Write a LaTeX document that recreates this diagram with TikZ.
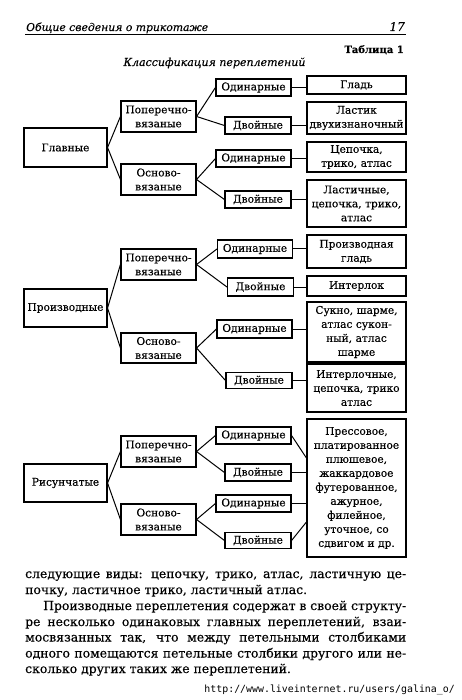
\documentclass[tikz,border=0pt]{standalone}
\usepackage{fontspec}
\setmainfont{DejaVu Serif}[FakeBold=0.35]
\newfontfamily\urlfont{DejaVu Sans Mono}
\begin{document}
\begin{tikzpicture}[x=1pt,y=-1pt,
  box/.style={draw, line width=1.1pt, inner xsep=0pt, inner ysep=0pt, align=center, font=\fontsize{10.6}{14}\selectfont},
  lzero/.style={box, text width=83pt, minimum height=38pt},
  lone/.style={box, text width=75pt, minimum height=31pt},
  odb/.style={box, text width=75pt, minimum height=17pt},
  dvb/.style={box, text width=66pt, minimum height=17pt},
  res/.style={box, text width=99pt},
  conn/.style={line width=1pt},
  bodyline/.style={anchor=base west, inner sep=0pt, font=\fontsize{12.4}{15}\selectfont},
]
\useasboundingbox (0,0) rectangle (462,700);

% header
\node[anchor=base west, inner sep=0pt, font=\fontsize{10.8}{13}\selectfont\itshape] (hd) at (26,31) {Общие сведения о трикотаже};
\node[anchor=base east, inner sep=0pt, font=\fontsize{12}{14}\selectfont\itshape] (pg) at (405,31) {17};
\coordinate (rl) at (25,34.5);
\coordinate (rr) at (406,34.5);
\draw[line width=1.2pt] (rl) -- (rr);
\node[anchor=base east, inner sep=0pt, font=\fontsize{10}{12}\selectfont\bfseries] (tb) at (404,53) {Таблица 1};
\node[anchor=base, inner sep=0pt, font=\fontsize{11}{13}\selectfont\itshape] (cap) at (214.5,66) {Классификация переплетений};

% group 1
\node[lzero, minimum height=39pt] (g) at (65.5,147.5) {Главные};
\node[lone] (p1) at (158.5,116.5) {Поперечно-\\вязаные};
\node[lone] (o1) at (158.5,179.5) {Осново-\\вязаные};
\node[odb] (a1) at (253.5,87.5) {Одинарные};
\node[dvb] (b1) at (258,125.5) {Двойные};
\node[odb] (a2) at (253.5,158.5) {Одинарные};
\node[dvb] (b2) at (258,199.5) {Двойные};
\node[res, minimum height=18pt] (r1) at (356.5,85) {Гладь};
\node[res, minimum height=32pt] (r2) at (356.5,118) {Ластик\\двухизнаночный};
\node[res, minimum height=30pt] (r3) at (356.5,157) {Цепочка,\\трико, атлас};
\node[res, minimum height=47pt] (r4) at (356.5,203.5) {Ластичные,\\цепочка, трико,\\атлас};

% group 2
\node[lzero] (pr) at (65.5,308) {Производные};
\node[lone] (p2) at (158.5,264.5) {Поперечно-\\вязаные};
\node[lone, minimum height=30pt] (o2) at (158.5,348) {Осново-\\вязаные};
\node[odb, minimum height=18pt] (a3) at (255,249) {Одинарные};
\node[dvb, minimum height=18pt] (b3) at (260.5,287) {Двойные};
\node[odb, minimum height=18pt] (a4) at (254.5,329) {Одинарные};
\node[dvb, minimum height=16pt] (b4) at (259,380.5) {Двойные};
\node[res, minimum height=33pt] (r5) at (356.5,251.5) {Производная\\гладь};
\node[res, minimum height=20pt] (r6) at (356.5,286) {Интерлок};
\node[res, minimum height=60pt] (r7) at (356.5,332) {Сукно, шарме,\\атлас сукон-\\ный, атлас\\шарме};
\node[res, minimum height=48pt] (r8) at (356.5,388) {Интерлочные,\\цепочка, трико\\атлас};

% group 3
\node[lzero] (ri) at (65.5,483) {Рисунчатые};
\node[lone] (p3) at (158.5,451.5) {Поперечно-\\вязаные};
\node[lone] (o3) at (158.5,519.5) {Осново-\\вязаные};
\node[odb] (a5) at (253.5,435.5) {Одинарные};
\node[dvb] (b5) at (258,472.5) {Двойные};
\node[odb] (a6) at (253.5,503.5) {Одинарные};
\node[dvb, minimum height=16pt] (b6) at (258,540.5) {Двойные};
\node[res, minimum height=138pt] (big) at (356.5,488) {Прессовое,\\платированное\\плюшевое,\\жаккардовое\\футерованное,\\ажурное,\\филейное,\\уточное, со\\сдвигом и др.};

% connectors
\draw[conn] (g.east) -- (p1.west);
\draw[conn] (g.east) -- (o1.west);
\draw[conn] (p1.east) -- (a1.west);
\draw[conn] (p1.east) -- (b1.west);
\draw[conn] (o1.east) -- (a2.west);
\draw[conn] (o1.east) -- (b2.west);
\draw[conn] (a1.east) -- (a1.east -| r1.west);
\draw[conn] (b1.east) -- (b1.east -| r2.west);
\draw[conn] (a2.east) -- (a2.east -| r3.west);
\draw[conn] (b2.east) -- (b2.east -| r4.west);

\draw[conn] (pr.east) -- (p2.west);
\draw[conn] (pr.east) -- (o2.west);
\draw[conn] (p2.east) -- (a3.west);
\draw[conn] (p2.east) -- (b3.west);
\draw[conn] (o2.east) -- (a4.west);
\draw[conn] (o2.east) -- (b4.west);
\draw[conn] (a3.east) -- (a3.east -| r5.west);
\draw[conn] (b3.east) -- (b3.east -| r6.west);
\draw[conn] (a4.east) -- (a4.east -| r7.west);
\draw[conn] (b4.east) -- (b4.east -| r8.west);

\draw[conn] (ri.east) -- (p3.west);
\draw[conn] (ri.east) -- (o3.west);
\draw[conn] (p3.east) -- (a5.west);
\draw[conn] (p3.east) -- (b5.west);
\draw[conn] (o3.east) -- (a6.west);
\draw[conn] (o3.east) -- (b6.west);
\draw[conn] (a5.east) -- ([yshift=30pt]big.west);
\draw[conn] (b5.east) -- (b5.east -| big.west);
\draw[conn] (a6.east) -- (a6.east -| big.west);
\draw[conn] (b6.east) -- ([yshift=-34pt]big.west);

% body text
\node[bodyline] (t1) at (25,578) {\makebox[381pt][s]{следующие виды: цепочку, трико, атлас, ластичную це-}};
\node[bodyline] (t2) at (25,594) {почку, ластичное трико, ластичный атлас.};
\node[bodyline] (t3) at (43,610) {\makebox[363pt][s]{Производные переплетения содержат в своей структу-}};
\node[bodyline] (t4) at (25,626) {\makebox[381pt][s]{ре несколько одинаковых главных переплетений, взаи-}};
\node[bodyline] (t5) at (25,641.5) {\makebox[381pt][s]{мосвязанных так, что между петельными столбиками}};
\node[bodyline] (t6) at (25,657.5) {\makebox[381pt][s]{одного помещаются петельные столбики другого или не-}};
\node[bodyline] (t7) at (25,673) {сколько других таких же переплетений.};

\node[anchor=base east, inner sep=0pt, font=\urlfont\fontsize{9.9}{12}\selectfont] (url) at (455,692) {http://www.liveinternet.ru/users/galina\_o/};
\end{tikzpicture}
\end{document}
